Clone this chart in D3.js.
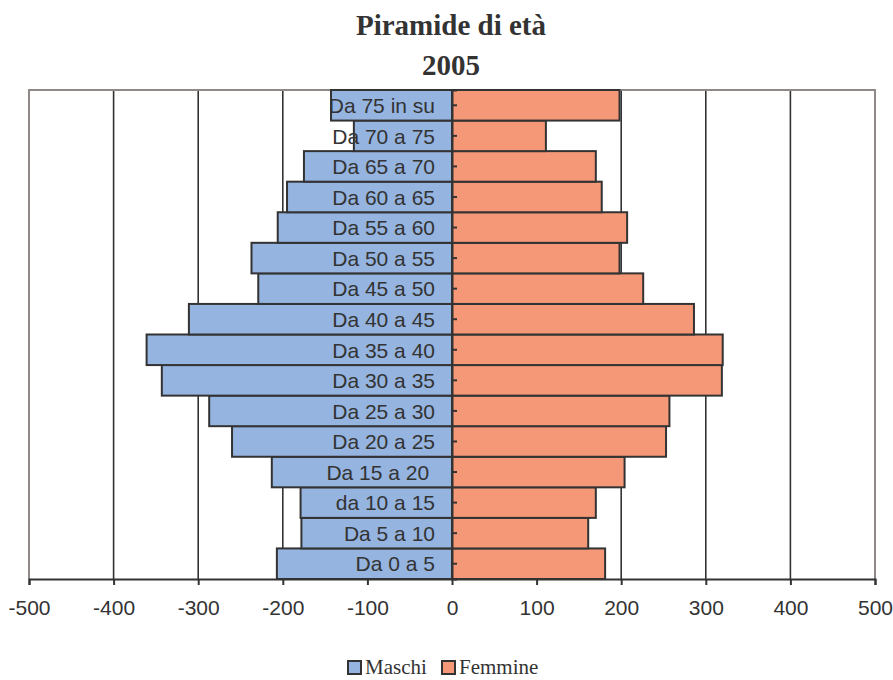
<!DOCTYPE html>
<html>
<head>
<meta charset="utf-8">
<script src="https://cdn.jsdelivr.net/npm/d3@7"></script>
<style>
  body { margin: 0; background: #fff; }
  svg text { font-family: "Liberation Sans", Arial, sans-serif; fill: #333; }
  .cat { white-space: pre; }
</style>
</head>
<body>
<svg id="chart" width="893" height="680"></svg>
<script>
// age groups, bottom to top
const categories = ["Da 0 a 5", "Da 5 a 10", "da 10 a 15", "Da 15 a 20 ", "Da 20 a 25", "Da 25 a 30",
                    "Da 30 a 35", "Da 35 a 40", "Da 40 a 45", "Da 45 a 50", "Da 50 a 55", "Da 55 a 60",
                    "Da 60 a 65", "Da 65 a 70", "Da 70 a 75", "Da 75 in su"];
const maschi = [207, 178, 179, 213, 260, 287, 343, 361, 311, 229, 237, 206, 195, 175, 116, 143];
const femmine = [181, 161, 170, 204, 253, 257, 319, 320, 286, 226, 198, 207, 177, 170, 111, 198];
const xTicks = [-500, -400, -300, -200, -100, 0, 100, 200, 300, 400, 500];
const seriesNames = ["Maschi", "Femmine"];
const colors = ["#95b4df", "#f59878"];

const svg = d3.select("#chart"),
      margin = {top: 90, right: 18, bottom: 101, left: 29},
      width = +svg.attr("width") - margin.left - margin.right,
      height = +svg.attr("height") - margin.top - margin.bottom,
      g = svg.append("g").attr("transform", "translate(" + margin.left + "," + margin.top + ")");

const x = d3.scaleLinear().domain([-500, 500]).range([0, width]);
const y = d3.scaleBand().domain(categories.slice().reverse()).range([0, height]).padding(0);

// title
const title = svg.append("text")
    .attr("x", 451)
    .attr("text-anchor", "middle")
    .style("font-family", "'Liberation Serif', 'Times New Roman', serif")
    .style("font-weight", "bold")
    .style("font-size", "29px");
title.append("tspan").attr("x", 451).attr("y", 35).text("Piramide di età");
title.append("tspan").attr("x", 451).attr("y", 75).text("2005");

// gridlines
g.selectAll(".grid")
  .data(xTicks.filter(d => d !== -500 && d !== 500 && d !== 0))
  .enter().append("line")
    .attr("x1", d => x(d)).attr("x2", d => x(d))
    .attr("y1", 0).attr("y2", height)
    .attr("stroke", "#333").attr("stroke-width", 1.6);

// plot border (top, left, right)
g.append("path")
    .attr("d", "M0," + height + "V0H" + width + "V" + height)
    .attr("fill", "none")
    .attr("stroke", "#8f8886")
    .attr("stroke-width", 2);

const rows = categories.map((c, i) => ({cat: c, m: maschi[i], f: femmine[i]}));

// male bars
g.selectAll(".bar-m")
  .data(rows)
  .enter().append("rect")
    .attr("x", d => x(-d.m))
    .attr("y", d => y(d.cat))
    .attr("width", d => x(0) - x(-d.m))
    .attr("height", y.bandwidth())
    .attr("fill", colors[0])
    .attr("stroke", "#333").attr("stroke-width", 2);

// female bars
g.selectAll(".bar-f")
  .data(rows)
  .enter().append("rect")
    .attr("x", x(0))
    .attr("y", d => y(d.cat))
    .attr("width", d => x(d.f) - x(0))
    .attr("height", y.bandwidth())
    .attr("fill", colors[1])
    .attr("stroke", "#333").attr("stroke-width", 2);

// vertical axis at zero with small ticks pointing right
const yAxis = g.append("g")
    .attr("transform", "translate(" + x(0) + ",0)")
    .call(d3.axisRight(y).tickSize(5).tickFormat(""));
yAxis.select(".domain").attr("stroke", "#333").attr("stroke-width", 2);
yAxis.selectAll(".tick line").attr("stroke", "#333").attr("stroke-width", 2);

// category labels
g.selectAll(".cat")
  .data(categories)
  .enter().append("text")
    .attr("class", "cat")
    .attr("x", x(0) - 17)
    .attr("y", d => y(d) + y.bandwidth() / 2)
    .attr("dy", "0.37em")
    .attr("text-anchor", "end")
    .style("font-size", "21px")
    .text(d => d);

// horizontal axis
const xAxis = g.append("g")
    .attr("transform", "translate(0," + height + ")")
    .call(d3.axisBottom(x).tickValues(xTicks).tickSize(6).tickPadding(15).tickFormat(d => String(d)));
xAxis.select(".domain").attr("stroke", "#333").attr("stroke-width", 2);
xAxis.selectAll(".tick line").attr("stroke", "#333").attr("stroke-width", 2);
xAxis.selectAll(".tick text").style("font-size", "21px").style("font-family", "'Liberation Sans', Arial, sans-serif").attr("fill", "#333");

// legend
const legendPos = [348, 442];
const legend = svg.selectAll(".legend")
  .data(seriesNames)
  .enter().append("g")
    .attr("transform", (d, i) => "translate(" + legendPos[i] + ",661)");
legend.append("rect")
    .attr("width", 13).attr("height", 13)
    .attr("fill", (d, i) => colors[i])
    .attr("stroke", "#333").attr("stroke-width", 2);
legend.append("text")
    .attr("x", 17).attr("y", 13)
    .style("font-family", "'Liberation Serif', 'Times New Roman', serif")
    .style("font-size", "21px")
    .text(d => d);
</script>
</body>
</html>
